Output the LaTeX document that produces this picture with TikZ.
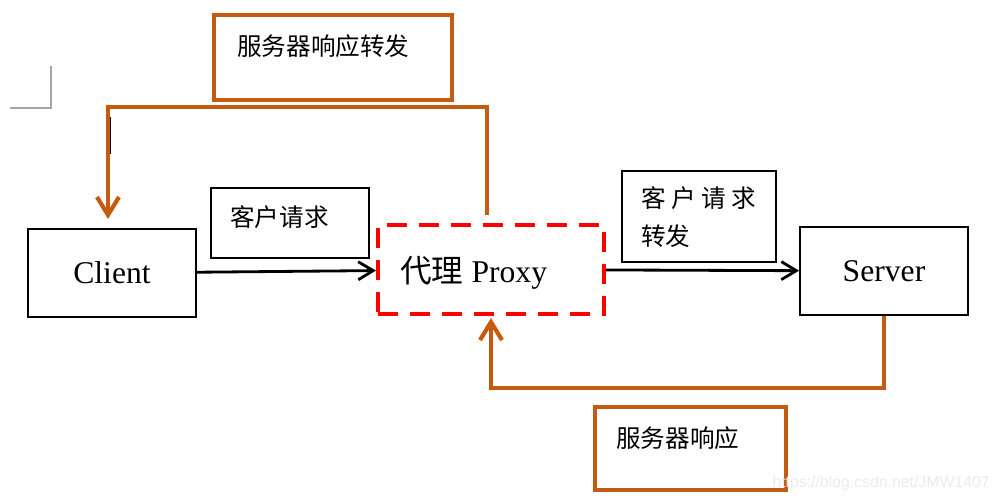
\documentclass[tikz,border=0pt]{standalone}
\usepackage{fontspec}
\setmainfont{Liberation Serif}
\newfontfamily\cjk{Noto Sans CJK SC}
\newfontfamily\wmfont{Liberation Sans}
\usetikzlibrary{arrows.meta,positioning,calc}
\definecolor{respline}{RGB}{197,90,17}
\definecolor{proxyred}{RGB}{255,0,0}

\begin{document}
\begin{tikzpicture}[
  box/.style={draw=black, line width=1.1pt, minimum width=3.36cm, minimum height=1.76cm, inner sep=0pt, font=\fontsize{18pt}{22pt}\selectfont},
  note/.style={draw=black, line width=1.1pt, inner sep=0pt},
  respbox/.style={draw=respline, line width=2.4pt, inner sep=0pt},
  cjktxt/.style={font=\cjk\fontsize{14pt}{21.5pt}\selectfont, anchor=west, inner sep=0pt, align=left},
  arrow/.style={-{Straight Barb[length=0.3cm,width=0.36cm]}, line width=1.6pt, black},
  back/.style={-{Straight Barb[length=0.36cm,width=0.44cm]}, line width=2.4pt, respline}
]
\useasboundingbox (0,0) rectangle (19.98,-10.06);

% page corner mark and cursor
\draw[black!35, line width=0.6pt] (1.02,-1.32) -- (1.02,-2.16) -- (0.2,-2.16);
\draw[black, line width=0.9pt] (2.2,-2.34) -- (2.2,-3.08);

% main boxes
\node[box] (client) at (2.24,-5.46) {Client\hspace{0.2cm}};
\node[draw=proxyred, line width=2.3pt, dash pattern=on 0.4cm off 0.24cm,
      minimum width=4.52cm, minimum height=1.78cm, inner sep=0pt] (proxy) at (9.82,-5.39) {};
\node[anchor=west, inner sep=0pt, font=\fontsize{18pt}{22pt}\selectfont] (proxytxt) at (8.0,-5.46) {{\cjk 代理} Proxy};
\node[box] (server) at (17.68,-5.42) {Server\hspace{0.2cm}};

% label boxes
\node[note, minimum width=3.16cm, minimum height=1.4cm] (req) at (5.8,-4.46) {};
\node[cjktxt] (reqtxt) at (4.6,-4.34) {客户请求};
\node[note, minimum width=3.08cm, minimum height=1.82cm] (fwd) at (13.98,-4.33) {};
\node[cjktxt] (fwdtxt) at (12.82,-4.34) {客 户 请 求\\转发};
\node[respbox, minimum width=4.76cm, minimum height=1.7cm] (resp2) at (6.66,-1.15) {};
\node[cjktxt] (resp2txt) at (4.74,-0.93) {服务器响应转发};
\node[respbox, minimum width=3.82cm, minimum height=1.66cm] (resp) at (13.81,-8.97) {};
\node[cjktxt] (resptxt) at (12.32,-8.76) {服务器响应};

% requests
\draw[arrow] (client) -- (proxy);
\draw[arrow] (proxy) -- (server);

% responses
\coordinate (topturn) at (2.16,-2.14);
\coordinate (botturn) at (9.82,-7.76);
\draw[back, shorten >=0.18cm] ([xshift=-0.08cm, yshift=0.16cm]proxy.north) |- (topturn) -- (topturn |- client.north);
\draw[back, shorten >=0.04cm] (server.south) |- (botturn) -- (proxy.south);

% watermark
\node[anchor=east, inner sep=0pt, text=black!8, font=\wmfont\fontsize{9pt}{11pt}\selectfont] (mark) at (19.8,-9.66) {https://blog.csdn.net/JMW1407};
\end{tikzpicture}
\end{document}
